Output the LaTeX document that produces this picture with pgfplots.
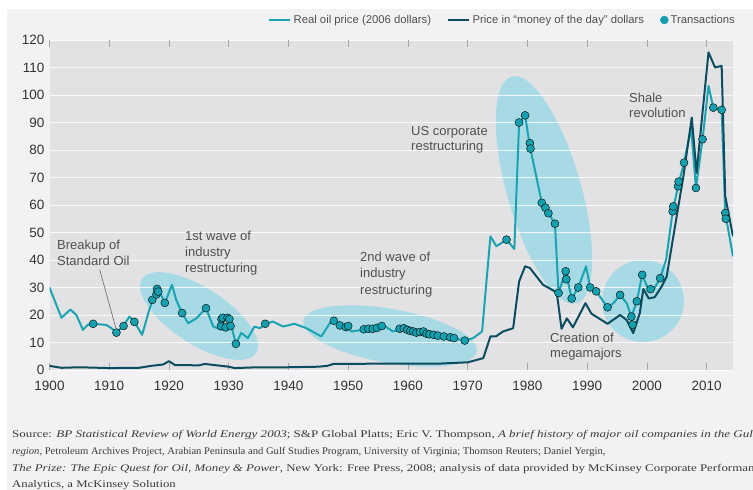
\documentclass[border=0pt]{standalone}
\usepackage{pgfplots}
\pgfplotsset{compat=1.18}
\usepackage{fontspec}
\setmainfont{Liberation Sans}
\newfontfamily\srcfont{Liberation Serif}
\definecolor{outerbg}{HTML}{F2F2F4}
\definecolor{plotbg}{HTML}{E2E2E4}
\definecolor{realc}{HTML}{1BA3B1}
\definecolor{dotc}{HTML}{14A0AE}
\definecolor{nomc}{HTML}{0D4C60}
\definecolor{ellc}{HTML}{A7DAE4}
\definecolor{annc}{HTML}{505050}
\definecolor{tickc}{HTML}{333333}
\definecolor{srcc}{HTML}{3A3A3A}
\begin{document}
\begin{tikzpicture}[x=1pt,y=1pt]
\useasboundingbox (0,0) rectangle (753,-490);
\fill[white] (0,0) rectangle (753,-490);
\fill[outerbg] (7,-9) rectangle (753,-490);
\fill[plotbg] (49.5,-40) rectangle (733,-370);
% highlighted periods (drawn under the axis)
\begin{scope}[shift={(199,-316)}, rotate=-33]
\fill[ellc] (0,0) ellipse [x radius=68, y radius=28];
\end{scope}
\begin{scope}[shift={(390,-336)}, rotate=-10]
\fill[ellc] (0,0) ellipse [x radius=88, y radius=27];
\end{scope}
\begin{scope}[shift={(544,-190)}, rotate=106]
\fill[ellc] (0,0) ellipse [x radius=118, y radius=37];
\end{scope}
\fill[ellc] (643,-301) circle [radius=41];
\begin{axis}[
  at={(49.5pt,-370pt)}, anchor=south west,
  scale only axis, width=683.5pt, height=330pt,
  xmin=1900, xmax=2014.4, ymin=0, ymax=120,
  axis line style={draw=none},
  xtick={1900,1910,...,2010}, ytick={0,10,...,120},
  ymajorgrids, grid style={white, line width=1pt, opacity=0.8},
  tick align=inside, major tick length=7pt,
  xtick style={draw=gray!70, line width=0.8pt}, ytick style={draw=none},
  /pgf/number format/assume math mode=true,
  /pgf/number format/1000 sep={},
  tick label style={font=\fontsize{13.5}{15}\selectfont, text=tickc, inner sep=0pt},
  xticklabel style={yshift=-11pt},
  yticklabel style={xshift=-5pt},
  legend columns=3,
  legend style={at={(rel axis cs:1,1)}, anchor=east, yshift=20pt, xshift=4pt,
    draw=none, fill=none, inner sep=0pt,
    font=\fontsize{11.3}{13}\selectfont, text=annc,
    /tikz/every even column/.append style={column sep=14pt}},
]
\draw[gray!80!black, line width=0.6pt] (axis cs:1908.4,36.5) -- (axis cs:1911.1,15.3);

\addplot[realc, line width=2pt, line join=round,
  legend image code/.code={\draw[realc, line width=2.5pt] (0pt,0pt) -- (21pt,0pt);}]
coordinates {
(1900,30) (1901,24.5) (1902,19) (1903.5,22) (1904.5,20) (1905.6,14.6) (1906.4,16.4)
(1907.3,16.8) (1909.5,16.4) (1910.3,15.3) (1911.2,13.6) (1912.3,16) (1913.4,19.4)
(1914.2,17.5) (1915.5,12.8) (1916.8,22.6) (1917.3,25.5) (1918,29.8) (1918.4,28.6)
(1919.3,24.4) (1920.5,31) (1921.2,25.5) (1922.2,20.7) (1923.2,17) (1924.6,18.8)
(1926.2,22.5) (1927.4,15.8) (1928.8,14.6) (1929.1,19.4) (1930.2,19.4) (1930.6,14.6)
(1931.2,9.5) (1932.1,13.5) (1933.2,11.6) (1934.3,15.8) (1935.2,15.2) (1936.2,16.8)
(1937.4,17.6) (1939.1,15.8) (1941,16.8) (1943,15.2) (1945.5,12.2) (1946.9,17)
(1947.7,17.9) (1949.1,15.8) (1949.7,15.8) (1950.5,14) (1952.5,14.6) (1955.8,16.4)
(1957.5,14) (1959.2,15.2) (1960.9,14) (1962.5,14) (1964.2,12.8) (1965.9,12.2)
(1967.6,11.6) (1969.5,10.7) (1970.9,11.6) (1972.4,14) (1973.8,48.6) (1974.8,45)
(1976.5,47.4) (1977.8,44) (1978.6,90) (1979.6,92.6) (1980.4,81.4) (1982.4,60.8)
(1983.5,57) (1984.6,53.2) (1985.2,28) (1986.4,35.9) (1987.4,26) (1988.5,30)
(1989.8,37.7) (1990.5,30) (1991.5,28.6) (1993.4,22.8) (1994.4,24.3) (1995.5,27.3)
(1996.6,24.3) (1997.4,19.4) (1998.3,25) (1999.2,34.6) (2000.2,29.5) (2001.1,29.2)
(2002.2,33.4) (2003.2,40) (2004.3,57.7) (2005.2,66.8) (2006.2,75.4) (2007.4,88)
(2008.2,66.2) (2009.3,83.9) (2010.3,103.3) (2011.1,95.4) (2012.5,94.6) (2013.1,57.1)
(2014.4,41.3)
};
\addlegendentry{Real oil price (2006 dollars)}

\addplot[nomc, line width=2pt, line join=round,
  legend image code/.code={\draw[nomc, line width=2.5pt] (0pt,0pt) -- (21pt,0pt);}]
coordinates {
(1900,1.5) (1902,0.8) (1905,1.0) (1910,0.7) (1915,0.8) (1917,1.5) (1919,2)
(1920,3.2) (1921,1.8) (1925,1.7) (1926,2.2) (1930,1.2) (1931,0.7) (1935,1.0)
(1940,1.0) (1945,1.2) (1946.5,1.5) (1947.5,2.2) (1955,2.3) (1965,2.3) (1970,2.8)
(1972.6,4.3) (1973.8,12.2) (1974.7,12.2) (1975.9,14) (1977.6,15.2) (1978.6,32.2)
(1979.6,37.7) (1980.4,37.1) (1982.6,31) (1984.9,28.2) (1985.7,15) (1986.6,18.8)
(1987.6,15.5) (1989.7,24.3) (1990.7,20.5) (1993.4,16.8) (1995.5,20) (1996.6,18.2)
(1997.7,13.4) (1998.8,20.7) (1999.4,29.5) (2000.3,26) (2001.3,26.5) (2002.5,30.5)
(2003.3,34) (2004.7,52.3) (2006.1,70.5) (2007.5,91.8) (2008.3,71.7) (2010.3,115.5)
(2011.4,110) (2012.5,110.6) (2013.1,63.2) (2014.4,48.6)
};
\addlegendentry{Price in “money of the day” dollars}

\addplot[only marks, mark=*, mark size=4pt, mark options={fill=dotc, draw=none},
  legend image code/.code={\fill[dotc] (4pt,0pt) circle (4pt);}]
coordinates {
(1907.3,16.8) (1911.2,13.6) (1912.4,16) (1914.2,17.5) (1917.2,25.5) (1917.9,27.5)
(1918.0,29.5) (1918.2,28.5) (1919.3,24.4) (1922.2,20.7) (1926.2,22.5) (1928.7,16)
(1928.8,18.5) (1929.0,19) (1929.5,15.5) (1929.8,19) (1930.1,18.5) (1930.3,16)
(1931.2,9.5) (1936.1,16.8) (1947.6,17.9) (1948.6,16.2) (1949.6,15.6) (1950.0,16)
(1952.6,14.8) (1953.4,15) (1954.1,15) (1954.8,15.3) (1955.6,16) (1958.6,15)
(1959.3,15.2) (1959.9,14.6) (1960.4,14.2) (1960.9,14) (1961.4,13.6) (1962.0,13.8)
(1962.6,14) (1963.1,13.2) (1963.6,13) (1964.3,12.8) (1965.0,12.5) (1966.0,12.2)
(1967.1,11.9) (1967.7,11.6) (1969.5,10.7) (1976.5,47.4) (1978.6,90) (1979.6,92.6)
(1980.4,82.5) (1980.5,80.5) (1982.4,60.8) (1983.0,59) (1983.5,57) (1984.6,53.2)
(1985.2,28) (1986.4,35.9) (1986.5,33) (1987.4,26) (1988.5,30) (1990.5,30)
(1991.5,28.6) (1993.4,22.8) (1995.5,27.3) (1997.4,19.4) (1997.6,16.5) (1998.3,25)
(1999.2,34.6) (2000.6,29.4) (2002.2,33.4) (2004.3,57.7) (2004.4,59.5) (2005.2,66.8)
(2005.3,68.5) (2006.2,75.4) (2008.2,66.2) (2009.3,83.9) (2011.1,95.4) (2012.5,94.6)
(2013.1,57.1) (2013.2,55)
};
\addlegendentry{Transactions}
\end{axis}

% annotations
\begin{scope}[every node/.style={anchor=base west, inner sep=0pt, text=annc, font=\fontsize{13}{15}\selectfont}]
\node at (57,-249) {Breakup of};
\node at (57,-265.5) {Standard Oil};
\node at (185,-240.5) {1st wave of};
\node at (185,-256.3) {industry};
\node at (185,-272.2) {restructuring};
\node at (360,-261.5) {2nd wave of};
\node at (360,-277.5) {industry};
\node at (360,-294) {restructuring};
\node at (411,-135) {US corporate};
\node at (411,-150.5) {restructuring};
\node at (629,-102.3) {Shale};
\node at (629,-117.7) {revolution};
\node at (550,-342.7) {Creation of};
\node at (550,-357.5) {megamajors};
\end{scope}

% source
\begin{scope}[every node/.style={anchor=base west, inner sep=0pt, text=srcc, font=\srcfont\fontsize{10.2}{12}\selectfont}]
\node at (12,-437.5) {\scalebox{1.28}[1]{Source: \textit{BP Statistical Review of World Energy 2003}; S\&P Global Platts; Eric V. Thompson, \textit{A brief history of major oil companies in the Gulf}}};
\node at (12,-454.5) {\scalebox{1.04}[1]{\textit{region}, Petroleum Archives Project, Arabian Peninsula and Gulf Studies Program, University of Virginia; Thomson Reuters; Daniel Yergin,}};
\node at (12,-471.5) {\scalebox{1.265}[1]{\textit{The Prize: The Epic Quest for Oil, Money \& Power}, New York: Free Press, 2008; analysis of data provided by McKinsey Corporate Performance}};
\node at (12,-487) {\scalebox{1.25}[1]{Analytics, a McKinsey Solution}};
\end{scope}
\end{tikzpicture}
\end{document}
